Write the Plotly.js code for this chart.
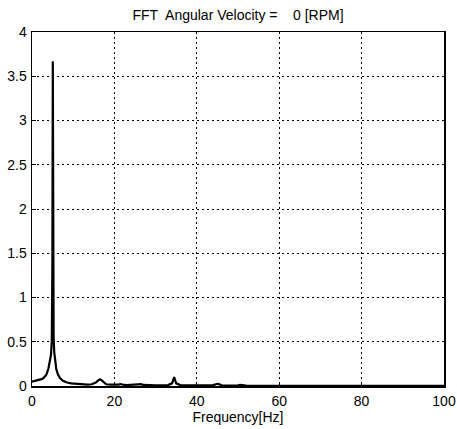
<!DOCTYPE html>
<html>
<head>
<meta charset="utf-8">
<script src="https://cdn.plot.ly/plotly-3.0.1.min.js"></script>
<style>html,body{margin:0;padding:0;background:#fff;}#chart{width:457px;height:429px;}</style>
</head>
<body>
<div id="chart"></div>
<script>
var freqHz = [0,0.5,1,1.5,2,2.5,3,3.5,4,4.3,4.6,4.8,4.95,5.05,5.15,5.25,5.4,5.6,5.9,6.3,6.8,7.5,8.5,9.5,10.5,11.5,12.5,13.5,14.5,15.5,16,16.5,17,17.5,18,19,20,21,21.5,22,23,24,25,26,26.5,27,28,29,30,31,32,33,34,34.5,35,36,37,38,39,40,41,42,43,44,44.5,45,45.5,46,47,48,49,50,50.5,51,52,54,56,58,60,62,64,66,68,70,72,74,76,78,80,82,84,86,88,90,92,94,96,98,100];
var amplitude = [0.05,0.055,0.06,0.065,0.07,0.08,0.1,0.13,0.2,0.26,0.35,0.5,1.4,3.67,1.3,0.55,0.38,0.27,0.19,0.13,0.09,0.06,0.04,0.03,0.025,0.02,0.018,0.016,0.02,0.04,0.06,0.075,0.06,0.035,0.02,0.015,0.012,0.015,0.022,0.015,0.01,0.012,0.01,0.012,0.02,0.012,0.008,0.006,0.008,0.006,0.006,0.01,0.03,0.1,0.03,0.01,0.006,0.005,0.005,0.006,0.005,0.005,0.006,0.01,0.02,0.025,0.018,0.008,0.005,0.004,0.005,0.008,0.012,0.008,0.004,0.003,0.004,0.003,0.003,0.003,0.004,0.003,0.003,0.003,0.003,0.003,0.003,0.003,0.003,0.003,0.003,0.003,0.003,0.003,0.003,0.003,0.003,0.003,0.003];
var xTickVals = [0,20,40,60,80,100];
var xTickText = ['0','20','40','60','80','100'];
var yTickVals = [0,0.5,1,1.5,2,2.5,3,3.5,4];
var yTickText = ['0','0.5','1','1.5','2','2.5','3','3.5','4'];
var titleText = 'FFT\u00a0 Angular Velocity =\u00a0\u00a0\u00a0 0 [RPM]';
var xTitle = 'Frequency[Hz]';

var font = {family: 'Liberation Sans, Arial, sans-serif', size: 14, color: '#000'};
var trace = {x: freqHz, y: amplitude, type: 'scatter', mode: 'lines',
  line: {color: '#000', width: 2.2}, hoverinfo: 'none'};
var axisCommon = {showline: true, linecolor: '#000', linewidth: 1.5, mirror: true,
  ticks: 'inside', ticklen: 4, tickcolor: '#000', showgrid: true, gridcolor: '#000',
  gridwidth: 1, griddash: '2px,3px', zeroline: false, tickfont: font, fixedrange: true,
  ticklabeloverflow: 'allow'};
var layout = {
  width: 457, height: 429,
  margin: {l: 32, r: 13, t: 32, b: 43},
  paper_bgcolor: '#fff', plot_bgcolor: '#fff',
  font: font, showlegend: false,
  title: {text: titleText, font: font, x: 0.5, xref: 'paper', y: 1 - 15.5 / 429, yref: 'container', yanchor: 'middle'},
  xaxis: Object.assign({}, axisCommon, {range: [0, 100], tickmode: 'array', tickvals: xTickVals, ticktext: xTickText,
    ticklabelstandoff: 2, title: {text: xTitle, font: font, standoff: 0}}),
  yaxis: Object.assign({}, axisCommon, {range: [0, 4], tickmode: 'array', tickvals: yTickVals, ticktext: yTickText,
    ticklabelstandoff: 1})
};
Plotly.newPlot('chart', [trace], layout, {staticPlot: true, displayModeBar: false});
</script>
</body>
</html>
